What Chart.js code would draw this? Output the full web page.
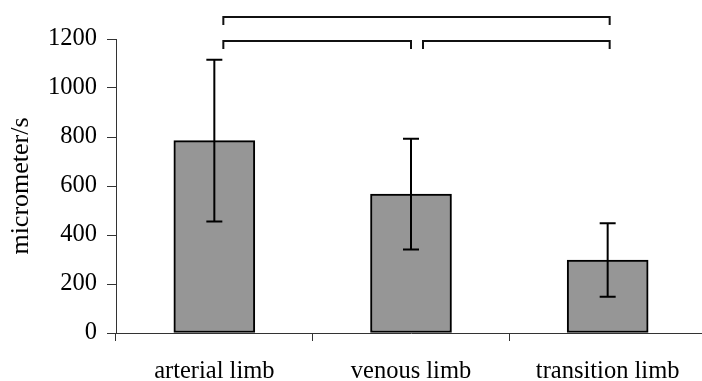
<!DOCTYPE html>
<html>
<head>
<meta charset="utf-8">
<script src="https://cdn.jsdelivr.net/npm/chart.js@4"></script>
<style>
  html, body { margin: 0; padding: 0; background: #fff; overflow: hidden; }
  #chart { display: block; }
</style>
</head>
<body>
<canvas id="chart" width="706" height="381"></canvas>
<script>
// data
var categories = ["arterial limb", "venous limb", "transition limb"];
var means = [785, 567, 298];
var sds = [330, 226, 150];
var yTicks = [0, 200, 400, 600, 800, 1000, 1200];

// significance brackets: [from, to, level]
var brackets = [
  [0, 2, 1290],
  [0, 1, 1192],
  [1, 2, 1192],
];

var serif = "'Liberation Serif', 'Times New Roman', serif";

// error bars drawn through the y scale
var errorBars = {
  id: "errorBars",
  afterDatasetsDraw(chart) {
    var ctx = chart.ctx;
    var x = chart.scales.x, y = chart.scales.y;
    ctx.save();
    ctx.strokeStyle = "#000";
    ctx.lineWidth = 2;
    means.forEach(function (m, i) {
      var cx = x.getPixelForValue(i);
      var top = y.getPixelForValue(m + sds[i]);
      var bot = y.getPixelForValue(m - sds[i]);
      ctx.beginPath();
      ctx.moveTo(cx, top); ctx.lineTo(cx, bot);
      ctx.moveTo(cx - 8, top); ctx.lineTo(cx + 8, top);
      ctx.moveTo(cx - 8, bot); ctx.lineTo(cx + 8, bot);
      ctx.stroke();
    });
    ctx.restore();
  },
};

// brackets above the plot
var sigBrackets = {
  id: "sigBrackets",
  afterDraw(chart) {
    var ctx = chart.ctx;
    var x = chart.scales.x, y = chart.scales.y;
    var startOff = [9, 12, 0], endOff = [4, 0, 2];
    ctx.save();
    ctx.strokeStyle = "#111";
    ctx.lineWidth = 2;
    brackets.forEach(function (b) {
      var x1 = x.getPixelForValue(b[0]) + startOff[b[0]];
      var x2 = x.getPixelForValue(b[1]) + endOff[b[1]];
      var yy = Math.round(y.getPixelForValue(b[2]));
      var drop = 8;
      ctx.beginPath();
      ctx.moveTo(x1, yy + drop); ctx.lineTo(x1, yy);
      ctx.lineTo(x2, yy); ctx.lineTo(x2, yy + drop);
      ctx.stroke();
    });
    ctx.restore();
  },
};

new Chart(document.getElementById("chart"), {
  type: "bar",
  data: {
    labels: categories,
    datasets: [{
      data: means,
      backgroundColor: "#969696",
      borderColor: "#000",
      borderWidth: 2,
      borderSkipped: false,
      barThickness: 81,
    }],
  },
  options: {
    responsive: false,
    animation: false,
    layout: { padding: { top: 39, right: 0, bottom: 0, left: 0 } },
    plugins: { legend: { display: false }, tooltip: { enabled: false } },
    scales: {
      x: {
        grid: { drawOnChartArea: false, tickLength: 8, color: "#333", lineWidth: 1 },
        border: { color: "#333", width: 1 },
        ticks: { color: "#000", padding: 16, font: { family: serif, size: 24.5 } },
        afterFit(s) { s.height = 48; },
      },
      y: {
        min: 0,
        max: 1200,
        afterBuildTicks(s) { s.ticks = yTicks.map(function (v) { return { value: v }; }); },
        grid: { drawOnChartArea: false, tickLength: 9, color: "#333", lineWidth: 1 },
        border: { color: "#333", width: 1 },
        ticks: {
          color: "#000",
          padding: 10,
          font: { family: serif, size: 24.5 },
          callback: function (v) { return String(v); },
        },
        title: {
          display: true,
          text: "micrometer/s",
          color: "#000",
          padding: { top: 6, bottom: 0 },
          font: { family: serif, size: 26 },
        },
        afterFit(s) { s.width = 116; },
      },
    },
  },
  plugins: [errorBars, sigBrackets],
});
</script>
</body>
</html>
